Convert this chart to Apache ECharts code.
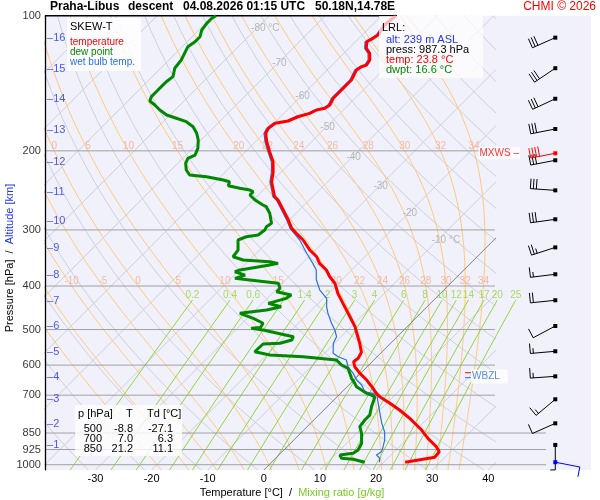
<!DOCTYPE html>
<html>
<head>
<meta charset="utf-8">
<script src="https://cdn.jsdelivr.net/npm/echarts@6/dist/echarts.min.js"></script>
<style>html,body{margin:0;padding:0;background:#fff}#container{width:600px;height:500px}</style>
</head>
<body>
<div id="container"></div>
<script>
var FONT = '"Liberation Sans", Arial, sans-serif';
var P_BOT = 1027.5;          // pressure at the bottom edge of the diagram
var SKEW = 80.04;            // degC per decade of pressure (45 deg isotherms)
var XMIN = -39, XMAX = 41.2;

// sounding: temperature
var tempP = [987.3, 962.7, 935.5, 911.8, 873.5, 837.1, 815.9, 788.3, 755.4, 730.0, 705.7, 693.5, 670.4, 647.8, 625.9, 605.1, 589.7, 579.5, 561.6, 536.5, 509.7, 492.7, 476.1, 460.1, 437.2, 415.3, 394.5, 381.4, 368.5, 356.1, 344.2, 332.6, 315.9, 305.3, 297.6, 285.1, 270.8, 257.3, 253.0, 234.3, 222.6, 211.5, 200.9, 190.9, 182.7, 178.1, 173.6, 171.6, 167.9, 165.0, 162.2, 160.8, 158.1, 152.7, 147.7, 142.7, 139.1, 132.1, 129.9, 128.8, 125.5, 121.3, 118.2, 114.3, 112.3, 110.4, 104.9, 100];
var tempT = [23.8, 28.2, 28.0, 26.6, 23.6, 21.0, 19.2, 16.8, 13.5, 10.6, 7.6, 6.4, 4.4, 2.3, -0.1, -2.2, -3.3, -3.1, -3.6, -5.5, -7.8, -9.3, -11.1, -12.9, -15.6, -18.3, -20.6, -22.7, -24.5, -26.9, -28.6, -31.0, -34.0, -36.4, -38.1, -40.2, -42.9, -45.6, -46.8, -50.0, -51.5, -53.3, -55.7, -58.0, -59.7, -60.1, -59.8, -57.9, -56.9, -55.4, -54.8, -53.6, -53.3, -53.9, -53.9, -53.9, -53.9, -54.8, -54.5, -53.9, -54.2, -55.4, -56.9, -58.0, -57.5, -57.2, -57.8, -57.4];

// dew point
var dewP = [987.3, 979.7, 972.6, 967.6, 951.4, 943.3, 927.5, 895.8, 851.2, 823.0, 795.2, 775.3, 742.7, 717.7, 705.7, 699.6, 693.5, 681.9, 670.4, 658.9, 642.2, 625.9, 610.1, 599.8, 584.5, 574.7, 569.8, 560.3, 555.4, 538.5, 536.5, 527.6, 518.7, 501.2, 496.8, 494.8, 484.1, 472.1, 460.1, 456.4, 452.4, 444.9, 437.2, 426.1, 418.8, 411.9, 404.7, 394.5, 387.9, 384.6, 378.1, 371.7, 368.5, 362.3, 359.2, 356.1, 353.1, 350.0, 344.2, 332.6, 315.9, 310.7, 308.0, 300.2, 295.1, 290.0, 275.5, 266.3, 264.0, 257.3, 250.8, 246.6, 244.5, 242.3, 239.2, 234.3, 232.3, 228.4, 226.4, 220.6, 213.2, 207.8, 204.3, 197.4, 189.2, 182.7, 176.7, 172.2, 169.2, 166.4, 162.2, 158.1, 154.9, 151.4, 147.7, 143.9, 140.3, 136.7, 130.9, 125.5, 121.3, 117.2, 114.3, 111.4, 107.6, 104.0, 101.3, 100];
var dewT = [16.6, 16.35, 14.0, 11.76, 10.87, 12.94, 13.24, 12.66, 10.87, 9.39, 9.09, 9.09, 7.91, 7.13, 6.72, 5.83, 4.63, 3.16, 1.68, 0.77, -0.71, -1.91, -3.10, -4.87, -6.65, -13.2, -19.4, -22.7, -22.7, -22.6, -19.7, -18.2, -18.5, -25.1, -27.5, -26.0, -26.3, -28.9, -32.2, -32.2, -28.0, -26.0, -28.9, -26.6, -26.3, -29.5, -29.5, -30.7, -36.4, -39.3, -38.1, -40.5, -39.9, -37.0, -35.5, -34.3, -36.1, -41.1, -43.5, -43.8, -45.6, -44.7, -42.9, -42.6, -42.9, -42.6, -44.7, -46.5, -47.4, -49.7, -51.5, -51.5, -52.4, -54.5, -57.0, -57.5, -58.9, -62.5, -65.8, -67.3, -68.6, -69.1, -68.4, -69.1, -70.5, -72.0, -73.8, -75.9, -78.3, -80.6, -82.7, -84.5, -86.1, -86.6, -86.6, -86.6, -86.6, -86.3, -87.5, -87.8, -88.4, -89.0, -88.6, -88.6, -89.5, -89.8, -89.8, -89.5];

// wet bulb temperature
var wetP = [987.3, 967.6, 951.4, 935.5, 911.8, 881.2, 844.4, 808.8, 768.6, 730.0, 699.6, 693.5, 687.9, 664.6, 647.8, 625.9, 605.1, 584.5, 574.7, 564.8, 536.5, 518.7, 501.2, 484.1, 460.1, 444.9, 426.1, 408.3, 387.9, 368.5, 356.1, 338.2, 315.9, 297.6, 285.1, 270.8, 257.3, 253.0, 234.3, 222.6, 211.5, 200.9, 190.9, 182.7, 178.1, 173.6, 171.6, 167.9, 165.0, 162.2, 160.8, 158.1, 152.7, 147.7, 142.7, 139.1, 132.1, 129.9, 128.8, 125.5, 121.3, 118.2, 114.3, 112.3, 110.4, 104.9, 100];
var wetT = [19.2, 18.6, 17.4, 17.7, 17.1, 16.2, 14.7, 12.7, 10.6, 8.5, 6.8, 5.8, 4.05, 2.3, 0.5, -1.3, -3.4, -4.9, -6.95, -8.45, -10.2, -10.8, -12.3, -14.1, -16.5, -17.9, -19.4, -22.1, -24.5, -26.3, -28.1, -31.0, -34.6, -38.4, -40.5, -43.2, -45.9, -47.1, -50.3, -51.8, -53.6, -56.0, -58.3, -60.0, -60.4, -60.1, -58.2, -57.2, -55.7, -55.1, -53.9, -53.6, -54.2, -54.2, -54.2, -54.2, -55.1, -54.8, -54.2, -54.5, -55.7, -57.2, -58.3, -57.8, -57.5, -58.1, -57.7];

// wind
var windP = [111.9, 130.9, 153.1, 178.8, 209.9, 244.9, 284.1, 328.1, 376.6, 430.3, 491.0, 559.0, 635.6, 715.0, 808.8, 903.6];
var windDir = [246, 236, 245, 259, 259, 274, 262, 252, 263, 264, 242, 265, 266, 230, 246, 180];
var windSpd = [30, 30, 30, 30, 30, 30, 30, 25, 15, 20, 10, 15, 15, 15, 10, 5];
var maxWindP = 202.5, maxWindDir = 259, maxWindSpd = 40;
var sfcWindP = 987.3, sfcWindDir = 101, sfcWindSpd = 10;

// axes and diagram lines
var pressLevels = [100, 200, 300, 400, 500, 600, 700, 850, 925, 1000];
var gridLevels = [200, 300, 400, 500, 600, 700];
var longLevels = [850, 925, 1000];
var altKm = [1, 2, 3, 4, 5, 6, 7, 8, 9, 10, 11, 12, 13, 14, 15, 16];
var altP = [903.6, 810.6, 715.0, 637.9, 561.0, 491.1, 431.2, 378.0, 329.6, 286.1, 246.6, 211.5, 179.7, 153.3, 131.6, 111.9];
var xTicks = [-30, -20, -10, 0, 10, 20, 30, 40];
var isoT = [-120, -110, -100, -90, -80, -70, -60, -50, -40, -30, -20, -10, 10, 20, 30, 40];
var isoLabT = [-80, -70, -60, -50, -40, -30, -20, -10];
var isoLabP = [106.5, 127.4, 150.9, 177.0, 206.4, 239.6, 275.1, 316.0];
var dryTheta = [230, 240, 250, 260, 270, 280, 290, 300, 310, 320, 330, 340, 350, 360, 370, 380, 390, 400, 410, 420, 430, 440, 450];
var moistThw = [-20, -15, -10, -5, 0, 5, 10, 15, 20, 22, 24, 26, 28, 30, 32, 34];
var moistLabelP = [200, 400];
var mixW = [0.2, 0.4, 0.6, 1, 1.4, 2, 3, 4, 6, 8, 10, 12, 14, 17, 20, 25];
var mixTopP = 430;

function skewX(t, p) { return t + SKEW * Math.log10(P_BOT / p); }
function pxToX(px) { return XMIN + (px - 45) / 5.6111; }

function satMix(tc, p) {
    var es = 6.112 * Math.exp(17.67 * tc / (tc + 243.5));
    return 0.622 * es / (p - es);
}
function moistRate(tk, p) {
    var rs = satMix(tk - 273.15, p);
    var num = 287.04 * tk + 2.501e6 * rs;
    var den = 1005.7 + 2.501e6 * 2.501e6 * rs * 0.622 / (287.04 * tk * tk);
    return num / (den * p);
}
function rk4(tk, p, h) {
    var k1 = moistRate(tk, p);
    var k2 = moistRate(tk + h / 2 * k1, p + h / 2);
    var k3 = moistRate(tk + h / 2 * k2, p + h / 2);
    var k4 = moistRate(tk + h * k3, p + h);
    return tk + h / 6 * (k1 + 2 * k2 + 2 * k3 + k4);
}
function moistCurve(thw) {
    var tk = thw + 273.15, p = 1000, h = (P_BOT - 1000) / 5, k;
    var low = [];
    for (k = 0; k < 5; k++) { tk = rk4(tk, p, h); p += h; low.push([p, tk - 273.15]); }
    low.reverse();
    var pts = low.concat([[1000, thw]]);
    tk = thw + 273.15; p = 1000;
    while (p > 100.01) { tk = rk4(tk, p, -5); p -= 5; pts.push([p, tk - 273.15]); }
    return pts;
}
function dewFromMix(w, p) {
    var e = w * p / (622 + w);
    var l = Math.log(e / 6.112);
    return 243.5 * l / (17.67 - l);
}
function profile(ps, ts) {
    return ps.map(function (p, i) { return [skewX(ts[i], p), p]; });
}

var isoLines = isoT.map(function (t) {
    return { coords: [[skewX(t, P_BOT), P_BOT], [skewX(t, 100), 100]] };
});
var dryLines = dryTheta.map(function (th) {
    var c = [];
    for (var k = 0; k <= 30; k++) {
        var p = P_BOT * Math.pow(100 / P_BOT, k / 30);
        c.push([skewX(th * Math.pow(p / 1000, 0.2857) - 273.15, p), p]);
    }
    return { coords: c };
});
var moistLines = [], moistLabels = [];
moistThw.forEach(function (thw) {
    var cur = moistCurve(thw);
    moistLines.push({ coords: cur.map(function (q) { return [skewX(q[1], q[0]), q[0]]; }) });
    moistLabelP.forEach(function (lp) {
        cur.forEach(function (q) {
            if (Math.abs(q[0] - lp) < 0.01) {
                var x = skewX(q[1], lp);
                if (x > XMIN + 1 && x < XMAX) moistLabels.push([x, lp, String(thw)]);
            }
        });
    });
});
var mixLines = mixW.map(function (w) {
    var c = [];
    for (var k = 0; k <= 10; k++) {
        var p = P_BOT * Math.pow(mixTopP / P_BOT, k / 10);
        c.push([skewX(dewFromMix(w, p), p), p]);
    }
    return { coords: c };
});
var mixLabels = mixW.map(function (w) {
    return [skewX(dewFromMix(w, mixTopP), mixTopP), mixTopP, String(w)];
});
var isoLabels = isoLabT.map(function (t, i) {
    var s = (i === 0 || i === isoLabT.length - 1) ? t + ' °C' : String(t);
    return [skewX(t, isoLabP[i]), isoLabP[i], s];
});

var barbX = pxToX(555.3);
var barbColors = ['#000000', '#ff0000', '#0000ff'];
var windData = windP.map(function (p, i) { return [barbX, p, windDir[i], windSpd[i], 0]; });
windData.push([barbX, maxWindP, maxWindDir, maxWindSpd, 1]);
windData.push([barbX, sfcWindP, sfcWindDir, sfcWindSpd, 2]);

function textLabels(data, color, size, pos, dist, clip, z, extra) {
    var lab = { show: true, position: pos, distance: dist, color: color, fontSize: size, fontFamily: FONT,
        formatter: function (p) { return p.value[2]; } };
    if (extra) for (var k in extra) lab[k] = extra[k];
    return { type: 'scatter', data: data, symbolSize: 0.1, silent: true, clip: clip, z: z,
        itemStyle: { color: 'rgba(0,0,0,0)' }, label: lab };
}
function lineSet(data, color, width, clip, z) {
    return { type: 'lines', coordinateSystem: 'cartesian2d', polyline: true, silent: true, clip: clip, z: z,
        data: data, lineStyle: { color: color, width: width, opacity: 1 } };
}
function txt(x, y, s, color, size, extra) {
    var st = { text: s, fill: color, font: size + 'px ' + FONT, align: 'left', verticalAlign: 'middle' };
    if (extra) for (var k in extra) st[k] = extra[k];
    return { type: 'text', x: x, y: y, z: 51, style: st };
}

var dom = document.getElementById('container');
var myChart = echarts.init(dom, null, { renderer: 'canvas' });

var option = {
    animation: false,
    backgroundColor: '#ffffff',
    grid: { left: 45, right: 105, top: 15.7, bottom: 30 },
    xAxis: {
        type: 'value', min: XMIN, max: XMAX,
        axisLine: { show: false }, axisTick: { show: false }, splitLine: { show: false },
        axisLabel: { customValues: xTicks, fontSize: 11, color: '#000', fontFamily: FONT, margin: 3 }
    },
    yAxis: {
        type: 'log', logBase: 10, min: 100, max: P_BOT, inverse: true,
        axisLine: { show: true, onZero: false, lineStyle: { color: '#000', width: 1 } },
        axisTick: { show: false }, axisLabel: { show: false }, splitLine: { show: false }
    },
    graphic: [
        { type: 'rect', z: -1, shape: { x: 45, y: 15.7, width: 546, height: 454.3 }, style: { fill: '#f1f1fc' } },
        { type: 'line', z: 52, shape: { x1: 45.5, y1: 15, x2: 45.5, y2: 470 }, style: { stroke: '#000', lineWidth: 1.3 } },
        txt(50, 7, 'Praha-Libus', '#000', 12, { font: 'bold 12px ' + FONT }),
        txt(128, 7, 'descent', '#000', 12, { font: 'bold 12px ' + FONT }),
        txt(183, 7, '04.08.2026 01:15 UTC', '#000', 12, { font: 'bold 12px ' + FONT }),
        txt(315, 7, '50.18N,14.78E', '#000', 12, { font: 'bold 12px ' + FONT }),
        txt(596, 7, 'CHMI © 2026', '#ff0000', 12, { align: 'right' }),
        { type: 'rect', z: 50, shape: { x: 67, y: 18, width: 74, height: 53 }, style: { fill: 'rgba(255,255,255,0.85)' } },
        txt(70, 26.5, 'SKEW-T', '#000', 11),
        txt(70, 42, 'temperature', '#ff0000', 10),
        txt(70, 52, 'dew point', '#008800', 10),
        txt(70, 62, 'wet bulb temp.', '#2a6fe8', 10),
        { type: 'rect', z: 50, shape: { x: 379, y: 16, width: 104, height: 62 }, style: { fill: 'rgba(255,255,255,0.7)' } },
        txt(382, 27.5, 'LRL:', '#000', 11),
        txt(386, 40, 'alt: 239 m ASL', '#2233ee', 11),
        txt(386, 50, 'press: 987.3 hPa', '#000', 11),
        txt(386, 60, 'temp: 23.8 °C', '#ff0000', 11),
        txt(386, 70, 'dwpt: 16.6 °C', '#008800', 11),
        { type: 'rect', z: 50, shape: { x: 75, y: 405, width: 107, height: 51 }, style: { fill: 'rgba(255,255,255,0.8)' } },
        txt(78, 413.5, 'p [hPa]', '#000', 11),
        txt(126, 413.5, 'T', '#000', 11),
        txt(147, 413.5, 'Td [°C]', '#000', 11),
        txt(102, 428.7, '500', '#000', 11, { align: 'right' }),
        txt(133, 428.7, '-8.8', '#000', 11, { align: 'right' }),
        txt(173, 428.7, '-27.1', '#000', 11, { align: 'right' }),
        txt(102, 438.7, '700', '#000', 11, { align: 'right' }),
        txt(133, 438.7, '7.0', '#000', 11, { align: 'right' }),
        txt(173, 438.7, '6.3', '#000', 11, { align: 'right' }),
        txt(102, 448.7, '850', '#000', 11, { align: 'right' }),
        txt(133, 448.7, '21.2', '#000', 11, { align: 'right' }),
        txt(173, 448.7, '11.1', '#000', 11, { align: 'right' }),
        {
            type: 'text', x: 10, y: 258, rotation: Math.PI / 2, z: 51,
            style: {
                text: 'Pressure [hPa]  /  {b|Altitude [km]}', fill: '#000', font: '11px ' + FONT,
                align: 'center', verticalAlign: 'middle',
                rich: { b: { fill: '#2233ee', font: '11px ' + FONT } }
            }
        },
        {
            type: 'text', x: 292, y: 493, z: 51,
            style: {
                text: 'Temperature [°C]  /  {g|Mixing ratio [g/kg]}', fill: '#000', font: '11px ' + FONT,
                align: 'center', verticalAlign: 'middle',
                rich: { g: { fill: '#77cc22', font: '11px ' + FONT } }
            }
        }
    ],
    series: [
        lineSet(isoLines, '#cfcfd8', 1, true, 1),
        lineSet(dryLines, '#cfcfd8', 1, true, 1),
        lineSet(moistLines, '#ffc878', 1, true, 1),
        lineSet(mixLines, '#95d53a', 1, false, 1),
        lineSet(gridLevels.map(function (p) { return { coords: [[XMIN, p], [XMAX, p]] }; }), '#a0a0a0', 1, true, 2),
        lineSet(longLevels.map(function (p) { return { coords: [[XMIN, p], [pxToX(546), p]] }; }), '#a0a0a0', 1, false, 2),
        lineSet([{ coords: [[XMIN, 100], [pxToX(397), 100]] }], '#000000', 1.5, false, 2),
        lineSet([{ coords: [[skewX(0, P_BOT), P_BOT], [skewX(0, 100), 100]] }], '#808080', 1, true, 2),
        lineSet([{ coords: [[pxToX(465), 624], [pxToX(471), 624]] }], '#ff0000', 1, false, 3),
        lineSet([{ coords: [[pxToX(465), 640], [pxToX(471), 640]] }], '#2a6fe8', 1, false, 3),
        textLabels(moistLabels, '#f5ab90', 10, 'top', 0, false, 3),
        textLabels(mixLabels, '#95d53a', 10, 'top', 0, false, 3),
        textLabels(isoLabels, '#a6a6a6', 10, 'inside', 0, false, 3, { align: 'left', offset: [-6, 0] }),
        {
            type: 'line', data: profile(wetP, wetT), showSymbol: false, silent: true, z: 4,
            lineStyle: { color: '#2a6fe8', width: 1.2 }
        },
        {
            type: 'line', data: profile(dewP, dewT), showSymbol: false, silent: true, z: 5,
            lineStyle: { color: '#008800', width: 3 }
        },
        {
            type: 'line', data: profile(tempP, tempT), showSymbol: false, silent: true, z: 6,
            lineStyle: { color: '#ff0000', width: 3 }
        },
        textLabels(pressLevels.map(function (p) { return [XMIN, p, String(p)]; }), '#000', 11, 'left', 4, false, 6),
        textLabels(altKm.map(function (k, i) { return [XMIN, altP[i], '\u2013' + k]; }), '#2233ee', 11, 'right', 2, false, 6),
        textLabels([[pxToX(520), maxWindP, 'MXWS \u2013']], '#ff0000', 10, 'left', 0, false, 7,
            { backgroundColor: '#ffffff', padding: [1, 1] }),
        textLabels([[pxToX(471), 636, 'WBZL']], '#2a6fe8', 10, 'right', 0, false, 7,
            { backgroundColor: '#ffffff', padding: [2, 8, 2, 1] }),
        {
            type: 'custom', coordinateSystem: 'cartesian2d', clip: false, silent: true, z: 8,
            data: windData,
            renderItem: function (params, api) {
                var c = api.coord([api.value(0), api.value(1)]);
                var a = api.value(2) * Math.PI / 180, spd = api.value(3);
                var col = barbColors[api.value(4)];
                var dx = Math.sin(a), dy = -Math.cos(a), L = 25;
                var tx = c[0] + dx * L, ty = c[1] + dy * L;
                var bx = -dy, by = dx;
                var st = { stroke: col, lineWidth: 1 };
                var ch = [
                    { type: 'line', shape: { x1: c[0], y1: c[1], x2: tx, y2: ty }, style: st },
                    { type: 'rect', shape: { x: c[0] - 2, y: c[1] - 2, width: 4, height: 4 }, style: { fill: col } }
                ];
                var n = Math.floor(spd / 10), half = (spd % 10) >= 5, s = 0;
                for (var i = 0; i < n; i++) {
                    var ox = tx - dx * s, oy = ty - dy * s;
                    ch.push({ type: 'line', shape: { x1: ox, y1: oy, x2: ox + bx * 10, y2: oy + by * 10 }, style: st });
                    s += 3;
                }
                if (half) {
                    var hx = tx - dx * s, hy = ty - dy * s;
                    ch.push({ type: 'line', shape: { x1: hx, y1: hy, x2: hx + bx * 5, y2: hy + by * 5 }, style: st });
                }
                return { type: 'group', children: ch };
            }
        }
    ]
};

myChart.setOption(option);

window.addEventListener('resize', function () {
    myChart.resize();
});
</script>
</body>
</html>
